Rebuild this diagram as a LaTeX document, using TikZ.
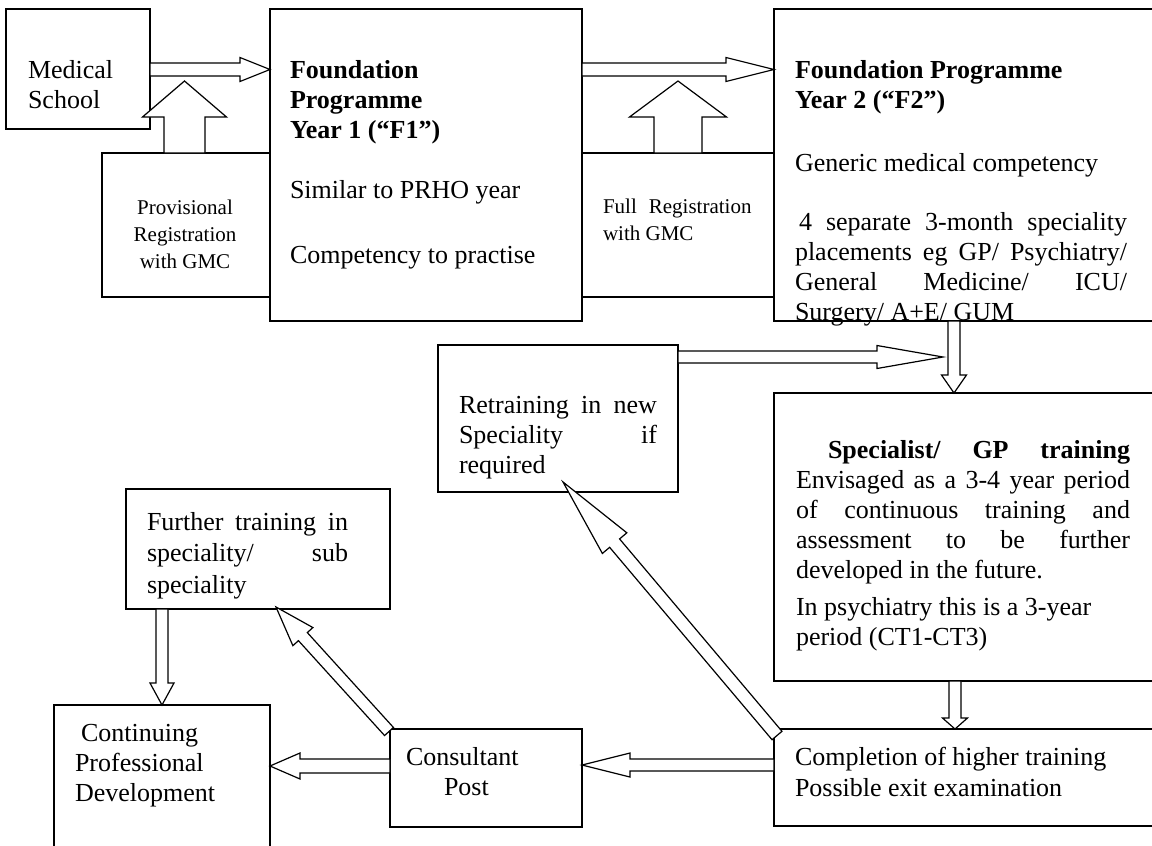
\documentclass[tikz,border=0pt]{standalone}
\usepackage{fontspec}
\setmainfont{Liberation Serif}
\usetikzlibrary{calc}
\newcommand\fsbig{\fontsize{26}{30}\selectfont}
\newcommand\fssmall{\fontsize{21}{27}\selectfont}
\newcommand\jp[2]{\parbox[t]{#1}{#2}}
% block arrow: start, end, shaft half-width, head half-width, head length
\newcommand\barr[5]{%
  \path (#2) coordinate (ba-e) ($(#2)!#5!(#1)$) coordinate (ba-h) (#1) coordinate (ba-s);
  \draw[barrow] ($(ba-s)!#3!90:(ba-e)$) -- ($(ba-h)!#3!90:(ba-e)$) -- ($(ba-h)!#4!90:(ba-e)$)
    -- (ba-e) -- ($(ba-h)!#4!-90:(ba-e)$) -- ($(ba-h)!#3!-90:(ba-e)$) -- ($(ba-s)!#3!-90:(ba-e)$) -- cycle;}
\tikzset{
  box/.style={draw, line width=1.3pt, anchor=north west, inner sep=0pt, outer sep=0pt},
  barrow/.style={draw, fill=white, line width=1.2pt, line join=miter},
  txt/.style={inner sep=0pt, outer sep=0pt, anchor=base west, font=\fsbig},
  stxt/.style={inner sep=0pt, outer sep=0pt, anchor=base, font=\fssmall}
}
\begin{document}
\begin{tikzpicture}[x=1pt, y=-1pt]
\useasboundingbox (0,0) rectangle (1152,846);
\clip (0,0) rectangle (1152,846);
% boxes
\node[box, minimum width=144pt, minimum height=120pt] (ms) at (6,9) {};
\node[box, minimum width=168pt, minimum height=144pt] (prov) at (102,153) {};
\node[box, minimum width=312pt, minimum height=312pt] (f1) at (270,9) {};
\node[box, minimum width=192pt, minimum height=144pt] (full) at (582,153) {};
\node[box, minimum width=400pt, minimum height=312pt] (f2) at (774,9) {};
\node[box, minimum width=240pt, minimum height=147pt] (ret) at (438,345) {};
\node[box, minimum width=400pt, minimum height=288pt] (spec) at (774,393) {};
\node[box, minimum width=400pt, minimum height=97pt] (comp) at (774,729) {};
\node[box, minimum width=264pt, minimum height=120pt] (fur) at (126,489) {};
\node[box, minimum width=216pt, minimum height=160pt] (cpd) at (54,705) {};
\node[box, minimum width=192pt, minimum height=98pt] (cons) at (390,729) {};
% texts
\node[txt] (mst) at (28,78) {\jp{120pt}{Medical\\School}};
\node[txt] (f1h) at (290,78) {\jp{280pt}{\bfseries Foundation\\Programme\\Year 1 (“F1”)}};
\node[txt] (f1a) at (290,198) {Similar to PRHO year};
\node[txt] (f1b) at (290,263) {Competency to practise};
\node[stxt] (provt) at (185,214) {\parbox[t]{160pt}{\centering Provisional\\Registration\\with GMC}};
\node[txt, font=\fssmall] (fullt) at (603,213) {\jp{170pt}{Full\hspace{12pt}Registration\\with GMC}};
\node[txt] (f2h) at (795,78) {\jp{340pt}{\bfseries Foundation Programme\\Year 2 (“F2”)}};
\node[txt] (f2a) at (795,171) {Generic medical competency};
\node[txt] (f2b) at (795,230) {\jp{332pt}{\hspace*{4pt}4 separate 3-month speciality\linebreak placements eg GP/ Psychiatry/\linebreak General Medicine/ ICU/\linebreak Surgery/ A+E/ GUM}};
\node[txt] (rett) at (459,413) {\jp{198pt}{Retraining in new\linebreak Speciality if\linebreak required}};
\node[txt] (spt) at (796,458) {\jp{334pt}{\hspace*{32pt}\textbf{Specialist/ GP training}\linebreak Envisaged as a 3-4 year period\linebreak of continuous training and\linebreak assessment to be further\linebreak developed in the future.}};
\node[txt] (spt2) at (796,615) {\jp{334pt}{In psychiatry this is a 3-year\\period (CT1-CT3)}};
\node[txt] (compt) at (795,765) {\jp{340pt}{\baselineskip=31pt Completion of higher training\\Possible exit examination}};
\node[txt] (furt) at (147,530) {\jp{201pt}{\baselineskip=31.5pt Further training in\linebreak speciality/ sub\linebreak speciality}};
\node[txt] (cpdt) at (75,741) {\jp{200pt}{\hspace*{6pt}Continuing\\Professional\\Development}};
\node[txt] (const) at (406,765) {\jp{180pt}{Consultant\\\hspace*{38pt}Post}};
% arrow end points
\coordinate (a1s) at ($(ms.north east)+(0,60.5)$);
\coordinate (a1e) at (a1s -| f1.west);
\coordinate (a2s) at (a1s -| f1.east);
\coordinate (a2e) at (a1s -| f2.west);
\coordinate (a3s) at ($(prov.north west)+(82.5,0)$);
\coordinate (a3e) at ($(a3s |- a1s)+(0,11.5)$);
\coordinate (a4s) at ($(full.north west)+(96,0)$);
\coordinate (a4e) at ($(a4s |- a1s)+(0,11.5)$);
\coordinate (a5s) at ($(f2.south west)+(180,0)$);
\coordinate (a5e) at (a5s |- spec.north);
\coordinate (a6s) at ($(ret.north east)+(0,12)$);
\coordinate (a6e) at ($(a6s)+(265,0)$);
\coordinate (a7s) at ($(spec.south west)+(181,0)$);
\coordinate (a7e) at (a7s |- comp.north);
\coordinate (a8s) at ($(comp.north west)+(0,36)$);
\coordinate (a8e) at (a8s -| cons.east);
\coordinate (a9s) at ($(cons.north west)+(0,37)$);
\coordinate (a9e) at (a9s -| cpd.east);
\coordinate (a10s) at ($(fur.south west)+(36,0)$);
\coordinate (a10e) at (a10s |- cpd.north);
\coordinate (a11s) at ($(cons.north west)+(-1,2.5)$);
\coordinate (a11e) at ($(fur.south west)+(150,-2)$);
\coordinate (a12s) at ($(comp.north west)+(3,6.5)$);
\coordinate (a12e) at ($(ret.south west)+(125,-10)$);
% block arrows
\barr{a1s}{a1e}{6.5pt}{12pt}{30pt}
\barr{a2s}{a2e}{6.5pt}{12pt}{48pt}
\barr{a3s}{a3e}{20.5pt}{42pt}{36pt}
\barr{a4s}{a4e}{24pt}{48.5pt}{36pt}
\barr{a5s}{a5e}{6pt}{12.5pt}{18pt}
\barr{a6s}{a6e}{6pt}{11.5pt}{66pt}
\barr{a7s}{a7e}{6pt}{12.5pt}{11pt}
\barr{a8s}{a8e}{6pt}{12pt}{48pt}
\barr{a9s}{a9e}{7pt}{13pt}{30pt}
\barr{a10s}{a10e}{6pt}{12pt}{22pt}
\barr{a11s}{a11e}{6pt}{13.5pt}{40pt}
\barr{a12s}{a12e}{6.5pt}{16pt}{80pt}
\end{tikzpicture}
\end{document}
